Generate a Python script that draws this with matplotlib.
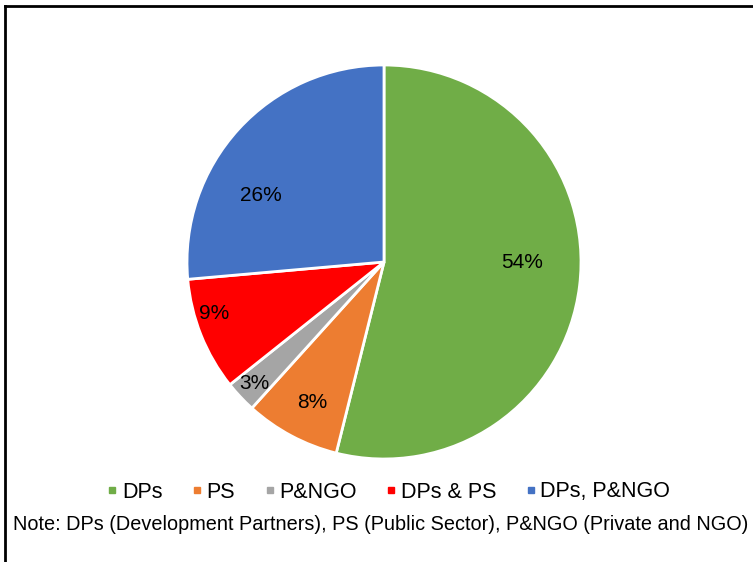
import numpy as np
import matplotlib.pyplot as plt
from matplotlib.lines import Line2D

plt.rcParams['font.family'] = ['Liberation Sans', 'DejaVu Sans']

labels = ['DPs', 'PS', 'P&NGO', 'DPs & PS', 'DPs, P&NGO']
shares = [53.9, 7.8, 2.6, 9.3, 26.4]
colors = ['#70AD47', '#ED7D31', '#A5A5A5', '#FF0000', '#4472C4']
note = 'Note: DPs (Development Partners), PS (Public Sector), P&NGO (Private and NGO)'

# label placement like Excel's "best fit" (radius fraction, angle nudge in deg)
label_dist = [0.70, 0.80, 0.90, 0.90, 0.71]
label_turn = [7, 1, 0, -5, 14]

W, H = 753, 562
fig = plt.figure(figsize=(W / 100, H / 100), dpi=100)

# pie centre ~ (384, 262) px, radius ~197 px
cx, cy, r = 384, 262, 197
ax = fig.add_axes([(cx - r) / W, (H - cy - r) / H, 2 * r / W, 2 * r / H])
wedges, _, autotexts = ax.pie(shares, colors=colors, startangle=90, counterclock=False,
                              autopct='%1.0f%%', pctdistance=0.7,
                              wedgeprops=dict(edgecolor='white', linewidth=2),
                              textprops=dict(fontsize=15, color='black'))
for w, t, d, turn in zip(wedges, autotexts, label_dist, label_turn):
    ang = np.deg2rad((w.theta1 + w.theta2) / 2 + turn)
    t.set_position((d * np.cos(ang), d * np.sin(ang)))
ax.set_xlim(-1, 1)
ax.set_ylim(-1, 1)
ax.set_aspect('equal')

handles = [Line2D([], [], marker='s', linestyle='none', markersize=4.5,
                  markerfacecolor=c, markeredgecolor=c) for c in colors]
fig.legend(handles, labels, loc='center', bbox_to_anchor=(388 / W, 1 - 492 / H),
           ncol=5, frameon=False, fontsize=15.5, handletextpad=0.15,
           columnspacing=1.3, handlelength=0.6)

fig.text(381 / W, 1 - 525 / H, note, ha='center', va='center', fontsize=14.3)

# frame: top and left lines only
fig.add_artist(Line2D([5 / W, 1], [1 - 6 / H, 1 - 6 / H], color='black', linewidth=2))
fig.add_artist(Line2D([5 / W, 5 / W], [0, 1 - 6 / H], color='black', linewidth=2))

fig.savefig('out.png', dpi=100)
